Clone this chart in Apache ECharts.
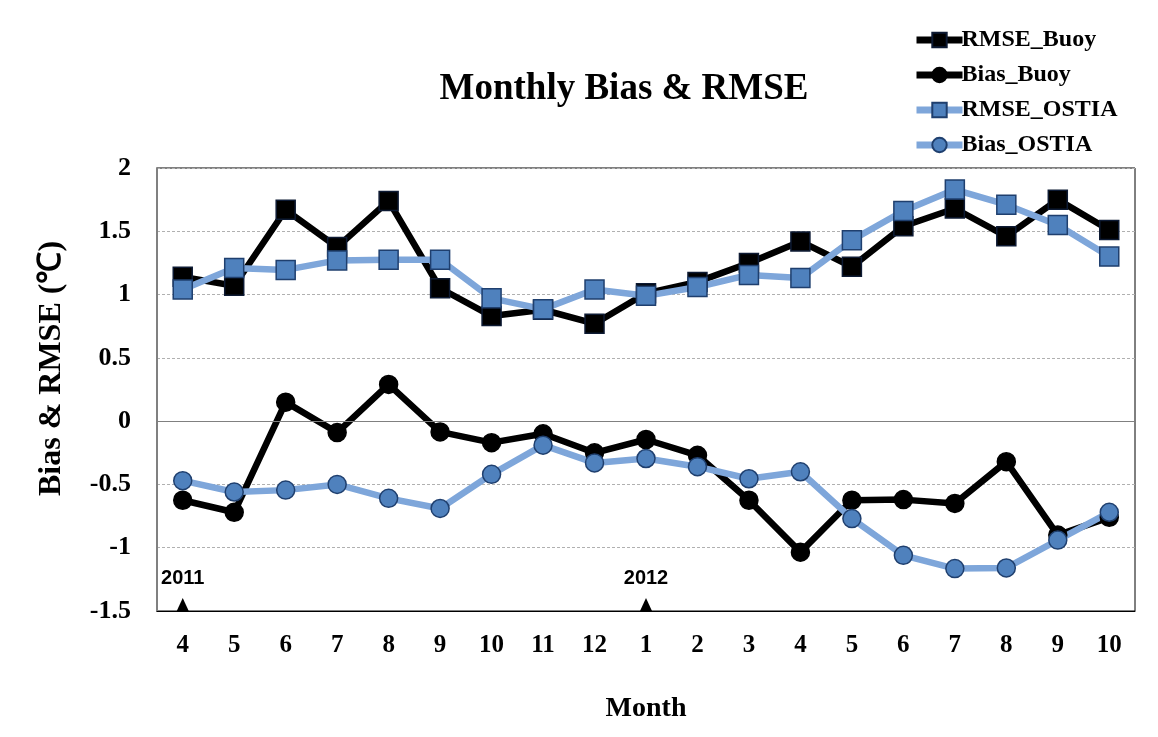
<!DOCTYPE html>
<html>
<head>
<meta charset="utf-8">
<script src="https://cdn.jsdelivr.net/npm/echarts@6/dist/echarts.min.js"></script>
<style>html,body{margin:0;padding:0;background:#fff}#c{width:1158px;height:737px}</style>
</head>
<body>
<div id="c"></div>
<script>
const months = ['4','5','6','7','8','9','10','11','12','1','2','3','4','5','6','7','8','9','10'];
const rmseBuoy  = [1.14,1.07,1.67,1.375,1.74,1.05,0.83,0.88,0.77,1.01,1.10,1.25,1.42,1.22,1.54,1.68,1.46,1.75,1.51];
const biasBuoy  = [-0.625,-0.72,0.15,-0.09,0.29,-0.085,-0.17,-0.10,-0.25,-0.145,-0.27,-0.625,-1.035,-0.625,-0.62,-0.65,-0.32,-0.90,-0.76];
const rmseOstia = [1.04,1.21,1.195,1.27,1.275,1.275,0.97,0.885,1.04,0.99,1.06,1.155,1.13,1.43,1.66,1.83,1.71,1.55,1.30];
const biasOstia = [-0.47,-0.56,-0.545,-0.50,-0.61,-0.69,-0.42,-0.19,-0.33,-0.295,-0.36,-0.455,-0.40,-0.77,-1.06,-1.165,-1.16,-0.94,-0.72];
const yearMarks = [{idx:0,label:'2011'},{idx:9,label:'2012'}];
const yTicks = {min:-1.5,max:2,interval:0.5};

const serif = 'Liberation Serif';
const chart = echarts.init(document.getElementById('c'));
const black = '#000000', blueLine = '#7ea6da', blueFill = '#4f81bd', blueEdge = '#1f3f6e';

function mk(name, data, symbol, lineColor, fill, edge, size){
  return {
    name, type:'line', data, symbol, symbolSize:size,
    lineStyle:{color:lineColor,width:6.5},
    itemStyle:{color:fill,borderColor:edge,borderWidth:1.5},
    emphasis:{disabled:true}
  };
}
const s1 = mk('RMSE_Buoy', rmseBuoy, 'rect', black, black, '#0d1a33', 19);
const s2 = mk('Bias_Buoy', biasBuoy, 'circle', black, black, black, 18);
const s3 = mk('RMSE_OSTIA', rmseOstia, 'rect', blueLine, blueFill, blueEdge, 19);
const s4 = mk('Bias_OSTIA', biasOstia, 'circle', blueLine, blueFill, blueEdge, 18);
s1.markLine = {silent:true, symbol:'none', label:{show:false}, lineStyle:{color:'#808080',width:1,type:'solid'}, data:[{yAxis:0}]};
s1.markPoint = {
  silent:true,
  data: yearMarks.map(m=>({coord:[m.idx, yTicks.min], value:m.label})),
  symbol:'triangle', symbolSize:[12,13], symbolOffset:[0,-6.5],
  itemStyle:{color:'#000',borderWidth:0},
  label:{show:true, position:'top', distance:10, formatter:p=>p.value, color:'#000',
         fontFamily:'Liberation Sans', fontWeight:'bold', fontSize:20}
};

chart.setOption({
  backgroundColor:'#fff',
  animation:false,
  title:{text:'Monthly Bias & RMSE', left:619, top:66, textAlign:'center',
    textStyle:{fontFamily:serif, fontWeight:'bold', fontSize:37, color:'#000'}},
  legend:{orient:'vertical', left:908, top:23, itemGap:11, itemWidth:46, itemHeight:18,
    lineStyle:{width:7},
    textStyle:{fontFamily:serif, fontWeight:'bold', fontSize:24, color:'#000', padding:[0,0,0,-6]},
    data:['RMSE_Buoy','Bias_Buoy','RMSE_OSTIA','Bias_OSTIA']},
  grid:{left:157, right:23, top:168, bottom:126, show:true, borderColor:'#000', borderWidth:1, backgroundColor:'transparent'},
  xAxis:{type:'category', data:months, boundaryGap:true,
    name:'Month', nameLocation:'middle', nameGap:84,
    nameTextStyle:{fontFamily:serif, fontWeight:'bold', fontSize:28, color:'#000'},
    axisLine:{show:true, onZero:false, lineStyle:{color:'#000',width:1}},
    axisTick:{show:false},
    axisLabel:{fontFamily:serif, fontWeight:'bold', fontSize:25, color:'#000', margin:22}},
  yAxis:{type:'value', min:yTicks.min, max:yTicks.max, interval:yTicks.interval,
    name:'Bias & RMSE (℃)', nameLocation:'middle', nameGap:89,
    nameTextStyle:{fontFamily:serif, fontWeight:'bold', fontSize:32, color:'#000', padding:[0,0,0,42]},
    axisLine:{show:true, lineStyle:{color:'#808080',width:2}},
    axisTick:{show:false},
    splitLine:{show:true, lineStyle:{color:'#b0b0b0', type:[3,2], width:1}},
    axisLabel:{fontFamily:serif, fontWeight:'bold', fontSize:26, color:'#000', margin:26}},
  series:[s1,s2,s3,s4]
});
</script>
</body>
</html>
